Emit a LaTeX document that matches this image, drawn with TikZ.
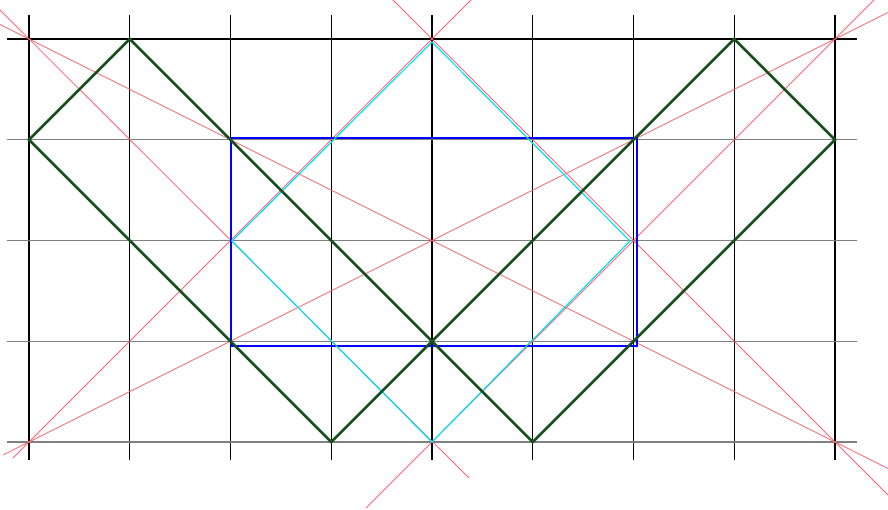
\documentclass[tikz,border=0pt]{standalone}
\begin{document}
\begin{tikzpicture}[x=1pt,y=-1pt,
  vgrid/.style={black,line width=1.1pt},
  hgrid/.style={gray,line width=1.4pt},
  hgridtop/.style={black,line width=1.1pt},
  redline/.style={color={rgb,255:red,255;green,100;blue,115},line width=0.8pt},
  bluebox/.style={blue,line width=1.4pt},
  cyanbox/.style={color={rgb,255:red,0;green,225;blue,250},line width=1.2pt},
  greenpath/.style={color={rgb,255:red,22;green,80;blue,30},line width=2.6pt,line join=miter}]
\useasboundingbox (0,0) rectangle (888,509);
\clip (0,0) rectangle (888,509);
% grid
\foreach \i in {0,...,8}{
  \draw[vgrid] ({29+100.75*\i},15) -- ({29+100.75*\i},460);
}
\draw[hgridtop] (7,39) -- (857,39);
\foreach \j in {0,1,2,3}{
  \draw[hgrid] (7,{442-100.75*\j}) -- (857,{442-100.75*\j});
}
% red construction lines
\draw[redline] (-10,0) -- (469,478);
\draw[redline] (880,-6) -- (366,508);
\draw[redline] (13,458) -- (480,-9);
\draw[redline] (385,-8) -- (900,507);
\draw[redline] (-10,19.5) -- (900,474.5);
\draw[redline] (3,455) -- (900,6.5);
% blue rectangle
\draw[bluebox] (231,138) rectangle (637,346);
% cyan diamond
\draw[cyanbox] (432,42) -- (630,241) -- (432,442) -- (232,241) -- cycle;
% green path
\draw[greenpath] (29,139.75) -- (129.75,39) -- (532.75,442) -- (835,139.75) -- (734.25,39) -- (331.25,442) -- cycle;
\end{tikzpicture}
\end{document}
